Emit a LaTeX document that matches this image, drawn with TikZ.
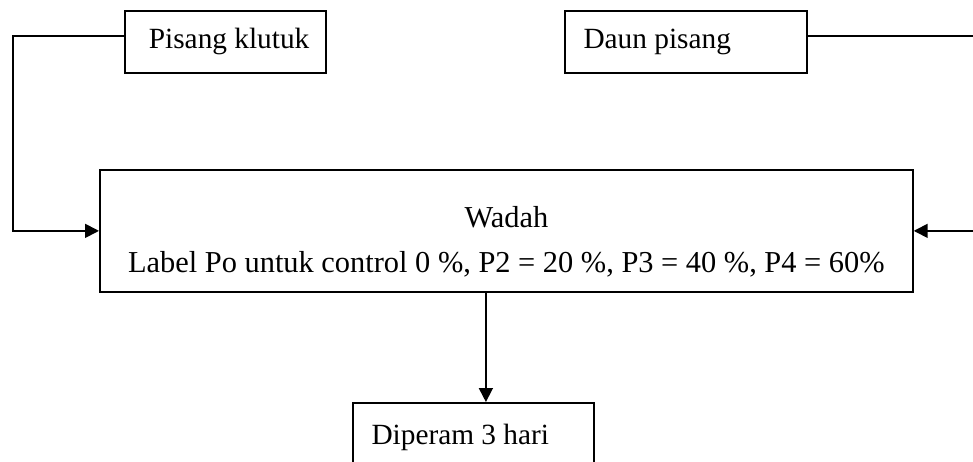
\documentclass[tikz,border=0pt]{standalone}
\usepackage{fontspec}
\setmainfont{Liberation Serif}
\usepackage{tikz}
\usetikzlibrary{arrows.meta}

\begin{document}
\begin{tikzpicture}[x=0.75pt, y=-0.75pt, line width=1.3pt, >={Triangle[length=10.5pt, width=10.5pt]}]
    \tikzstyle{bahan} = [rectangle, draw=black, inner xsep=0pt, minimum height=46.5pt, font=\fontsize{22}{26}\selectfont]
    \tikzstyle{wadah} = [rectangle, draw=black, align=center, minimum width=609.75pt, minimum height=91.5pt, font=\fontsize{22.8}{26}\selectfont]

    \useasboundingbox (0,0) rectangle (973,461);

    % Bahan
    \node [bahan, anchor=north west] (klutuk) at (124,10) {\makebox[150.75pt][l]{\hspace*{18pt}Pisang klutuk}};
    \node [bahan, anchor=north west] (daun) at (564,10) {\makebox[181.5pt][l]{\hspace*{14pt}Daun pisang}};

    % Wadah
    \node [wadah, anchor=north west] (wadah) at (99,169) {\rule{0pt}{32pt}Wadah\\[7.5pt] Label Po untuk control 0 \%, P2 = 20 \%, P3 = 40 \%, P4 = 60\%};

    % Hasil
    \node [bahan, minimum height=52.5pt, anchor=north west] (peram) at (352,402) {\makebox[180.75pt][l]{\hspace*{14pt}Diperam 3 hari}};

    % Arrows
    \draw [->] ([yshift=4.5pt]klutuk.west) -- ++(-111,0) |- (wadah.west);
    \draw [->] ([yshift=4.5pt]daun.east) -- ++(180,0) |- (wadah.east);
    \draw [->] ([xshift=9.4pt]peram.north |- wadah.south) -- ([xshift=9.4pt]peram.north);
\end{tikzpicture}
\end{document}
